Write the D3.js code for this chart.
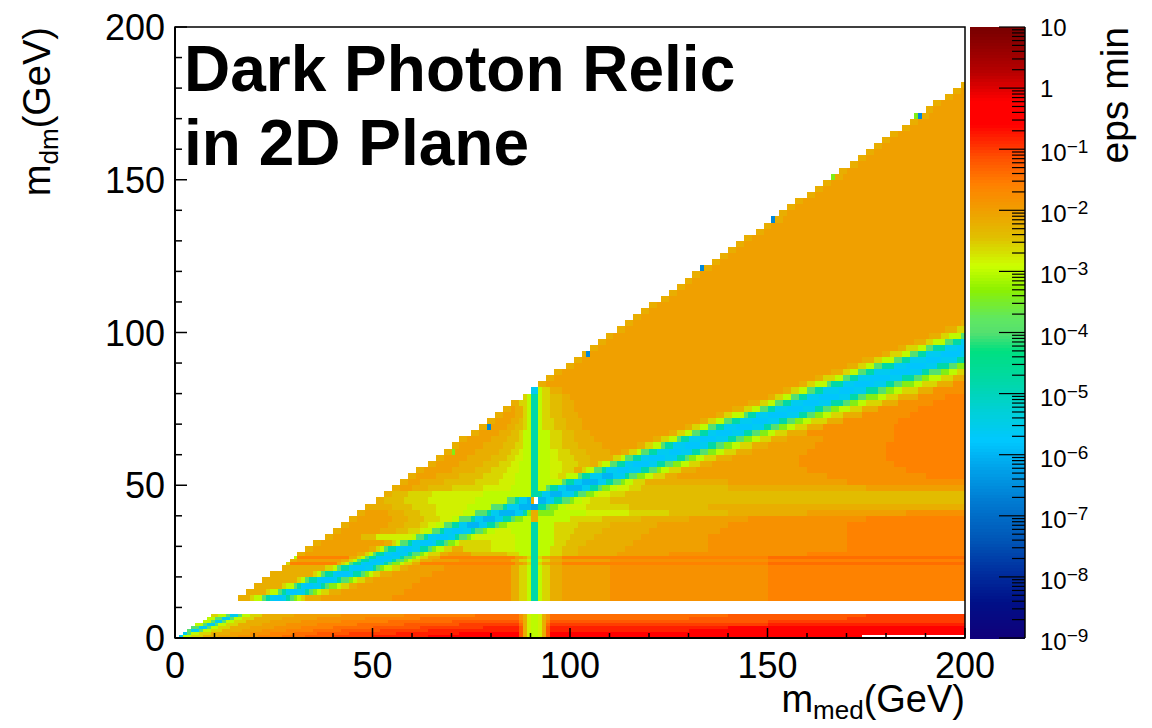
<!DOCTYPE html>
<html>
<head>
<meta charset="utf-8">
<script src="https://cdn.jsdelivr.net/npm/d3@7"></script>
<style>
  html, body { margin: 0; padding: 0; background: #ffffff; }
  svg { display: block; }
  text { font-family: "Liberation Sans", Arial, Helvetica, sans-serif; fill: #000; }
</style>
</head>
<body>
<svg id="chart" width="1152" height="728"></svg>
<script>
// Minimum kinetic-mixing epsilon giving the observed relic density,
// binned in mediator mass (x, GeV) and dark-matter mass (y, GeV).

// Value codebook: each run key stands for one log10(eps) level.
const levelKeys = "abcdefghijklmnopqrstuvwxyzABCDEFGHIJ";
const levelLog10 = [-7.0, -6.8, -6.6, -6.4, -6.2, -6.0, -5.8, -5.6, -5.4, -5.2,
                    -5.0, -4.8, -4.6, -4.4, -4.2, -4.0, -3.8, -3.6, -3.4, -3.2,
                    -3.0, -2.8, -2.6, -2.4, -2.2, -2.0, -1.8, -1.6, -1.4, -1.2,
                    -1.0, -0.8, -0.6, -0.4, -0.2, 0.0];

// m_dm row edges (GeV)
const mdmEdges = [0, 1, 2, 3, 4, 5, 6, 7, 8, 12, 14, 16, 18, 20, 22, 24, 25, 26, 27, 28,
  30, 32, 34, 36, 38, 40, 42, 44, 46, 48, 50, 52, 54, 56, 58, 60, 62, 64, 66, 68,
  70, 72, 74, 76, 78, 80, 82, 84, 86, 88, 90, 92, 94, 96, 98, 100, 102, 104, 106, 108,
  110, 112, 114, 116, 118, 120, 122, 124, 126, 128, 130, 132, 134, 136, 138, 140, 142, 144, 146, 148,
  150, 152, 154, 156, 158, 160, 162, 164, 166, 168, 170, 172, 174, 176, 178, 180, 182];

// One row per m_dm bin: "m_med:key" runs, each lasting until the next run (or 200 GeV).
// "." marks bins with no solution.
const mdmRows = [
  "1:h 2:u 4:w 7:y 11:z 16:A 21:B 27:C 33:D 40:E 50:F 64:G 87:D 88:y 89:v 90:u 92:v 93:y 94:D 95:G 174:.",
  "2:h 3:p 4:u 6:w 9:y 14:z 19:A 24:B 30:C 36:D 44:E 56:F 72:G 87:D 88:y 89:v 90:u 92:v 93:y 94:D 95:G",
  "3:p 4:h 6:p 7:u 9:w 12:y 17:z 22:A 28:B 35:C 42:D 52:E 64:F 87:D 88:y 89:v 90:u 92:v 93:y 94:D 95:F 130:G",
  "4:p 6:h 8:p 9:u 11:w 14:y 19:z 25:A 32:B 40:C 50:D 62:E 78:F 87:D 88:y 89:v 90:u 92:v 93:y 94:D 95:F 140:G",
  "5:u 7:p 8:h 10:p 11:u 13:w 16:y 22:z 28:A 36:B 46:C 58:D 72:E 87:C 88:y 89:v 90:u 92:v 93:y 94:C 95:E 150:F",
  "7:u 9:p 10:h 12:p 13:u 15:w 18:y 24:z 32:A 42:B 54:C 70:D 87:B 88:y 89:v 90:u 92:v 93:y 94:B 95:D 150:E",
  "8:u 10:p 12:h 14:p 15:u 17:w 20:y 27:z 36:A 48:B 62:C 87:A 88:y 89:v 90:u 92:v 93:y 94:A 95:C 130:D 170:E",
  "9:w 11:u 13:p 14:h 16:p 17:u 19:w 22:y 30:z 42:A 58:B 76:C 87:A 88:y 89:v 90:u 92:v 93:y 94:A 95:C 140:D 175:E",
  "",
  "16:y 19:w 20:u 22:p 23:l 24:h 25:g 27:h 28:l 29:p 30:s 31:u 32:w 33:y 37:z 55:A 85:y 87:w 89:u 90:l 92:u 93:w 95:y 98:z 110:A 150:B",
  "18:y 23:w 24:u 26:p 27:l 28:h 29:g 31:h 33:l 34:p 35:s 36:u 37:w 39:y 42:z 58:A 85:y 87:w 89:u 90:l 92:u 93:w 95:y 98:z 110:A 150:B",
  "20:y 27:w 28:u 30:p 31:l 32:h 33:g 35:h 37:l 38:p 39:s 41:u 42:w 44:y 46:z 60:A 85:y 87:w 89:u 90:l 92:u 93:w 95:y 98:z 110:A 150:B",
  "22:y 31:w 32:u 33:p 34:l 36:h 37:g 40:h 41:l 42:p 44:s 45:u 46:w 48:y 50:z 62:A 85:y 87:w 89:u 90:l 92:u 93:w 95:y 98:z 110:A 150:B",
  "24:y 35:w 36:u 37:p 38:l 40:h 41:g 44:h 45:l 47:p 48:s 49:u 50:w 52:y 55:z 65:A 85:y 87:w 89:u 90:l 92:u 93:w 95:y 98:z 110:A 150:B",
  "27:y 38:w 40:u 41:p 42:l 44:h 45:g 48:h 50:l 51:p 52:s 53:u 55:w 57:y 59:z 68:A 85:y 87:w 89:u 90:l 92:u 93:w 95:y 98:z 110:A 150:B",
  "28:w 29:B 41:y 42:w 43:u 44:p 45:l 47:h 48:g 51:h 53:l 54:p 55:s 57:u 58:w 60:y 62:B 86:z 88:y 89:w 90:l 92:w 93:y 95:z 98:B 150:C",
  "29:y 31:z 42:y 44:w 45:u 46:p 47:l 49:h 50:g 53:h 55:l 56:p 58:s 59:u 60:w 62:y 65:z 72:A 85:y 87:w 89:u 90:l 92:u 93:w 95:y 98:z 110:A 150:B",
  "30:u 31:B 44:y 46:w 47:u 48:p 49:l 51:h 52:g 55:h 57:l 58:p 60:s 61:u 62:w 64:y 67:B 86:z 88:y 89:w 90:l 92:w 93:y 95:z 98:B 150:C",
  "31:y 33:z 46:y 48:w 49:u 50:p 51:l 53:h 55:g 57:h 59:l 60:p 62:s 63:u 64:w 67:y 69:z 75:x 84:w 87:u 90:l 92:u 95:w 98:x 102:y 112:z 125:A 160:B",
  "33:y 35:z 49:y 51:w 52:u 53:p 54:l 56:h 58:g 60:h 62:l 64:p 65:s 66:u 68:w 70:y 73:w 80:v 86:u 90:l 92:u 95:w 98:x 102:y 114:z 135:A 170:B",
  "35:y 37:z 53:y 55:w 56:u 57:p 59:l 60:h 62:g 65:h 66:l 68:p 69:s 71:u 72:w 74:w 80:v 86:u 90:l 92:u 96:w 99:x 104:y 116:z 135:A 170:B",
  "38:y 40:z 47:x 51:v 60:u 61:p 63:l 64:h 66:g 69:h 71:l 72:p 74:s 75:u 76:v 86:u 90:l 92:u 96:w 100:x 106:y 118:z 135:A 170:B",
  "40:y 42:z 52:y 56:x 59:w 62:v 63:u 65:p 67:l 68:h 70:g 73:h 75:l 76:p 78:s 79:u 81:v 85:u 90:l 92:u 96:w 101:x 108:y 120:z 138:A 170:B",
  "42:y 44:z 54:y 58:x 62:w 64:v 66:u 68:p 70:l 72:h 74:f 77:h 79:l 81:p 82:s 84:u 90:l 92:u 96:w 102:x 110:y 122:z 140:A 170:B",
  "44:y 46:z 55:y 59:x 63:w 67:v 70:u 72:p 75:l 76:h 78:f 81:h 83:l 85:p 86:s 88:u 90:y 92:u 100:w 108:x 118:y 130:z 145:A 175:B",
  "46:y 48:z 54:y 58:x 62:w 66:v 73:u 76:p 79:l 80:h 82:f 86:h 88:l 89:s 90:y 92:s 96:u 104:v 115:w 125:x 140:y 160:z 185:A",
  "48:y 50:y 55:x 60:w 66:v 74:u 80:p 83:l 84:h 87:f 90:e 92:l 94:p 95:s 97:u 99:v 104:w 115:x 135:y",
  "51:y 53:x 58:w 64:v 76:u 84:p 86:l 87:h 89:f 90:y 91:. 92:f 94:h 96:l 98:p 100:s 101:u 103:v 105:w 110:x",
  "53:y 55:x 59:w 65:v 78:u 89:u 90:l 91:l 93:h 95:f 98:h 101:l 102:p 104:s 106:u 107:v 110:w 114:x",
  "55:y 57:z 60:y 64:x 70:w 78:v 85:u 90:l 92:u 94:p 95:l 97:h 99:f 103:h 105:l 107:p 108:s 110:u 112:v 115:w 118:x 140:y 175:z",
  "57:y 59:z 62:y 68:x 76:w 82:v 86:u 90:l 92:u 98:p 99:l 101:h 103:f 107:h 109:l 111:p 113:s 114:u 116:w 119:y 140:z 170:A",
  "59:y 61:z 66:y 72:x 78:w 83:v 86:u 90:l 92:u 95:v 97:w 99:u 102:p 103:l 105:h 108:f 111:h 114:l 115:p 117:s 119:u 121:w 124:y 127:z 165:A 190:B",
  "61:y 63:z 70:y 76:x 80:w 84:v 87:u 90:l 92:u 95:v 98:w 101:y 103:w 104:u 106:p 108:l 109:h 112:g 115:h 118:l 120:p 122:s 123:u 125:w 128:y 132:z 160:A 185:B",
  "64:y 66:z 72:y 78:x 82:w 85:v 87:u 90:l 92:u 95:v 98:w 102:x 105:y 107:w 108:u 110:p 112:l 114:h 116:g 120:h 122:l 124:p 126:s 128:u 130:w 133:y 136:z 158:A 182:B",
  "66:y 68:z 74:y 80:x 84:w 86:v 88:u 90:l 92:u 95:v 97:w 101:x 105:y 111:w 113:u 114:p 116:l 118:h 120:g 124:h 127:l 129:p 130:s 132:u 134:w 137:y 141:z 158:A 180:B",
  "68:y 70:s 71:z 76:y 82:x 85:w 87:v 88:u 90:l 92:u 95:v 97:w 100:x 104:y 110:z 113:y 115:w 117:u 118:p 120:l 122:h 125:g 128:h 131:l 133:p 135:s 137:u 139:w 142:y 146:z 160:A 180:B",
  "70:y 72:z 78:y 83:x 86:w 88:u 90:l 92:u 95:w 98:x 102:y 108:z 117:y 119:w 121:u 123:p 124:l 126:h 129:g 133:h 135:l 137:p 139:s 141:u 143:w 146:y 150:z 162:A 180:B",
  "72:y 74:z 80:y 84:x 87:w 88:u 90:l 92:u 95:w 98:x 101:y 106:z 121:y 123:w 125:u 127:p 128:l 130:h 133:g 137:h 140:l 142:p 144:s 146:u 148:w 151:y 155:z 164:A 182:B",
  "75:y 77:z 82:y 85:x 87:w 88:u 90:l 92:u 95:w 98:x 101:y 105:z 125:y 127:w 129:u 131:p 133:l 135:h 137:g 141:h 144:l 146:p 148:s 150:u 152:w 155:y 160:A 182:B",
  "77:y 79:c 80:z 84:y 86:x 88:w 89:u 90:l 92:u 93:w 96:x 99:y 103:z 129:y 131:w 133:u 135:p 137:l 139:h 142:g 146:h 149:l 151:p 153:s 155:u 157:w 160:y 164:A 182:B",
  "79:y 81:z 85:y 87:x 88:w 89:u 90:l 92:u 93:w 96:x 99:y 103:z 133:y 135:w 137:u 139:p 141:l 143:h 146:g 150:h 153:l 155:p 157:s 159:u 161:w 165:y 169:A 183:B",
  "81:y 83:z 86:y 88:w 89:u 90:l 92:u 93:w 95:x 98:y 102:z 137:y 139:w 141:u 144:p 145:l 147:h 150:g 155:h 158:l 160:p 162:s 164:u 166:w 169:y 174:A 186:B",
  "83:y 85:z 86:y 88:w 89:u 90:l 92:u 93:w 95:x 98:y 101:z 141:y 144:w 146:u 148:p 150:l 152:h 155:g 159:h 162:l 164:p 166:s 168:u 171:w 174:y 178:A 188:B",
  "85:y 87:w 89:u 90:l 92:u 93:w 95:x 98:y 101:z 145:y 148:w 150:u 152:p 154:l 156:h 159:g 163:h 166:l 169:p 171:s 173:u 175:w 179:y 183:A 192:B",
  "88:w 89:u 90:l 92:u 93:w 95:x 98:y 100:z 150:y 152:w 154:u 156:p 158:l 160:h 163:g 168:h 171:l 173:p 175:s 178:u 180:w 183:y 188:A 195:B",
  "90:h 92:u 93:w 95:y 98:z 154:y 156:w 158:u 160:p 162:l 164:h 168:g 172:h 175:l 178:p 180:s 182:u 184:w 188:y 192:A",
  "92:y 94:z 158:y 160:w 162:u 165:p 166:l 169:h 172:g 177:h 180:l 182:p 184:s 187:u 189:w 193:y 197:A",
  "94:y 96:z 162:y 164:w 167:u 169:p 171:l 173:h 176:g 181:h 184:l 187:p 189:s 191:u 194:w 197:y",
  "96:y 98:z 166:y 169:w 171:u 173:p 175:l 177:h 181:g 186:h 189:l 191:p 194:s 196:u 198:w",
  "99:y 101:z 170:y 173:w 175:u 177:p 179:l 182:h 185:g 190:h 193:l 196:p 198:s",
  "101:y 103:z 174:y 177:w 179:u 182:p 184:l 186:h 190:g 194:h 198:l",
  "103:y 104:c 105:z 179:y 181:w 184:u 186:p 188:l 190:h 194:g 199:h",
  "105:y 107:z 183:y 185:w 188:u 190:p 192:l 195:h 198:g",
  "107:y 109:z 187:y 190:w 192:u 195:p 197:l 199:h",
  "109:y 111:z 191:y 194:w 196:u 199:p",
  "112:y 114:z 195:y 198:w",
  "114:y 116:z 199:y",
  "116:y 118:z",
  "118:y 120:z",
  "120:y 122:z",
  "123:y 125:z",
  "125:y 127:z",
  "127:y 129:z",
  "129:y 131:z",
  "131:y 133:z",
  "133:c 134:y 136:z",
  "136:y 138:z",
  "138:y 140:z",
  "140:y 142:z",
  "142:y 144:z",
  "144:y 146:z",
  "147:y 149:z",
  "149:y 151:z",
  "151:c 152:y 154:z",
  "153:y 155:z",
  "155:y 157:z",
  "157:y 159:z",
  "160:y 162:z",
  "162:y 164:z",
  "164:y 166:z",
  "166:s 167:y 169:z",
  "168:y 170:z",
  "171:y 173:z",
  "173:y 175:z",
  "175:y 177:z",
  "177:y 179:z",
  "179:y 181:z",
  "181:y 183:z",
  "184:y 186:z",
  "186:y 188:z",
  "187:s 188:c 189:y 191:z",
  "190:y 192:z",
  "192:y 194:z",
  "195:y 197:z",
  "197:y 199:z",
  "199:y"
];

// Colour palette (log10 eps -> colour)
const paletteLog10 = [-9, -8.4, -7.9, -7.35, -6.8, -6.25, -5.76, -5.3, -4.8, -4.3, -4.0, -3.75,
                      -3.3, -2.9, -2.45, -2.0, -1.57, -1.13, -0.7, -0.6, -0.2, 0.0, 0.25, 0.9, 1.0];
const paletteColors = ["#10007a", "#001088", "#0030a0", "#0058b8", "#0078d0", "#00a0e8", "#00c8ff",
                       "#00d0d8", "#00d8a8", "#00e080", "#55e070", "#60e860", "#8cf000", "#ccff00",
                       "#e0c000", "#f0a000", "#ff8000", "#ff5000", "#ff1000", "#ff0000", "#ff0000",
                       "#e00000", "#b80000", "#800000", "#7a0000"];

// Axis ticks
const xMajorTicks = [0, 50, 100, 150, 200];
const yMajorTicks = [0, 50, 100, 150, 200];
const minorStep = 10;
const zExponents = [-9, -8, -7, -6, -5, -4, -3, -2, -1, 0, 1];

const titleLines = ["Dark Photon Relic", "in 2D Plane"];

// ---------------------------------------------------------------
const svg = d3.select("#chart");
const frame = { left: 175, right: 965, top: 27, bottom: 638 };
const bar = { left: 970, right: 1025 };

const x = d3.scaleLinear().domain([0, 200]).range([frame.left, frame.right]);
const y = d3.scaleLinear().domain([0, 200]).range([frame.bottom, frame.top]);
const z = d3.scaleLog().domain([1e-9, 10]).range([frame.bottom, frame.top]);
const color = d3.scaleLinear().domain(paletteLog10).range(paletteColors)
  .interpolate(d3.interpolateRgb).clamp(true);

// Decode the runs into rectangles
const cells = [];
mdmRows.forEach((row, r) => {
  const lo = mdmEdges[r], hi = mdmEdges[r + 1];
  const text = row.trim();
  if (!text) return;
  const runs = text.split(/\s+/).map(t => {
    const [p, k] = t.split(":");
    return { from: +p, key: k };
  });
  runs.forEach((run, i) => {
    const to = i + 1 < runs.length ? runs[i + 1].from : 200;
    if (run.key === "." || to <= run.from) return;
    cells.push({ x0: run.from, x1: to, y0: lo, y1: hi,
                 v: levelLog10[levelKeys.indexOf(run.key)] });
  });
});

svg.append("g").attr("class", "cells")
  .selectAll("rect").data(cells).join("rect")
  .attr("x", d => x(d.x0))
  .attr("width", d => x(d.x1) - x(d.x0))
  .attr("y", d => y(d.y1))
  .attr("height", d => y(d.y0) - y(d.y1))
  .attr("fill", d => color(d.v))
  .attr("shape-rendering", "crispEdges");

// Frame
svg.append("rect")
  .attr("x", frame.left).attr("y", frame.top)
  .attr("width", frame.right - frame.left).attr("height", frame.bottom - frame.top)
  .attr("fill", "none").attr("stroke", "#000").attr("stroke-width", 1.5);

const axes = svg.append("g").attr("stroke", "#000");
axes.append("line").attr("x1", frame.left).attr("x2", frame.right)
  .attr("y1", frame.bottom).attr("y2", frame.bottom).attr("stroke-width", 2);
axes.append("line").attr("x1", frame.left).attr("x2", frame.left)
  .attr("y1", frame.top).attr("y2", frame.bottom).attr("stroke-width", 2);

const minorVals = d3.range(0, 201, minorStep);
// x ticks (pointing up into the frame)
axes.selectAll(".xt").data(minorVals).join("line")
  .attr("x1", d => x(d)).attr("x2", d => x(d))
  .attr("y1", frame.bottom)
  .attr("y2", d => frame.bottom - (xMajorTicks.includes(d) ? 10 : 5))
  .attr("stroke-width", 1.5);
// y ticks (pointing right into the frame)
axes.selectAll(".yt").data(minorVals).join("line")
  .attr("y1", d => y(d)).attr("y2", d => y(d))
  .attr("x1", frame.left)
  .attr("x2", d => frame.left + (yMajorTicks.includes(d) ? 12 : 7))
  .attr("stroke-width", 1.5);

// tick labels
svg.append("g").selectAll("text").data(xMajorTicks).join("text")
  .attr("x", d => x(d)).attr("y", 678)
  .attr("text-anchor", "middle").attr("font-size", 36)
  .text(d => d);
svg.append("g").selectAll("text").data(yMajorTicks).join("text")
  .attr("x", 165).attr("y", d => y(d) + 13)
  .attr("text-anchor", "end").attr("font-size", 36)
  .text(d => d);

// axis titles
const xt = svg.append("text").attr("x", frame.right).attr("y", 712)
  .attr("text-anchor", "end").attr("font-size", 38);
xt.append("tspan").text("m");
xt.append("tspan").attr("font-size", 26).attr("dy", 7).text("med");
xt.append("tspan").attr("dy", -7).text("(GeV)");

const yt = svg.append("text")
  .attr("transform", `translate(50,${frame.top}) rotate(-90)`)
  .attr("text-anchor", "end").attr("font-size", 38);
yt.append("tspan").text("m");
yt.append("tspan").attr("font-size", 26).attr("dy", 8).text("dm");
yt.append("tspan").attr("dy", -8).text("(GeV)");

// Colour bar
const barSteps = d3.range(0, 200);
const logLo = -9, logHi = 1;
svg.append("g").selectAll("rect").data(barSteps).join("rect")
  .attr("x", bar.left).attr("width", bar.right - bar.left)
  .attr("y", i => z(Math.pow(10, logLo + (i + 1) * (logHi - logLo) / 200)))
  .attr("height", i => z(Math.pow(10, logLo + i * (logHi - logLo) / 200)) -
                       z(Math.pow(10, logLo + (i + 1) * (logHi - logLo) / 200)) + 0.5)
  .attr("fill", i => color(logLo + (i + 0.5) * (logHi - logLo) / 200))
  .attr("shape-rendering", "crispEdges");

const zAxis = svg.append("g").attr("stroke", "#000");
zAxis.append("line").attr("x1", bar.right).attr("x2", bar.right)
  .attr("y1", frame.top).attr("y2", frame.bottom).attr("stroke-width", 1.5);
const zMinor = [];
zExponents.slice(0, -1).forEach(e => {
  for (let m = 2; m <= 9; m++) zMinor.push(m * Math.pow(10, e));
});
zAxis.selectAll(".zmin").data(zMinor).join("line")
  .attr("x1", bar.right - 13).attr("x2", bar.right)
  .attr("y1", d => z(d)).attr("y2", d => z(d)).attr("stroke-width", 1.2);
zAxis.selectAll(".zmaj").data(zExponents).join("line")
  .attr("x1", bar.right - 26).attr("x2", bar.right)
  .attr("y1", e => z(Math.pow(10, e))).attr("y2", e => z(Math.pow(10, e)))
  .attr("stroke-width", 1.2);

const zLabels = svg.append("g");
zExponents.forEach(e => {
  const yy = z(Math.pow(10, e));
  const t = zLabels.append("text").attr("x", 1040).attr("font-size", 24);
  if (e === 0) {
    t.attr("y", yy + 9).text("1");
  } else if (e === 1) {
    t.attr("y", yy + 9).text("10");
  } else {
    t.attr("y", yy + 12);
    t.append("tspan").text("10");
    t.append("tspan").attr("font-size", 19).attr("dy", -8).text("\u2212" + (-e));
  }
});

svg.append("text")
  .attr("transform", `translate(1128,${frame.top}) rotate(-90)`)
  .attr("text-anchor", "end").attr("font-size", 39)
  .text("eps min");

// Title
svg.append("g").selectAll("text").data(titleLines).join("text")
  .attr("x", 184).attr("y", (d, i) => 91 + i * 74)
  .attr("font-size", 64).attr("font-weight", "bold")
  .text(d => d);
</script>
</body>
</html>
